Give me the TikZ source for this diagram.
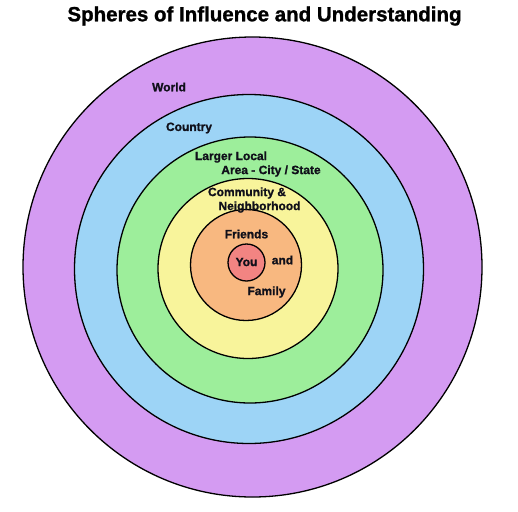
\documentclass[tikz,border=0pt]{standalone}
\usepackage{fontspec}
\setmainfont{Liberation Sans}[BoldFeatures={FakeBold=1.2}]
\definecolor{cpurple}{HTML}{D49BF2}
\definecolor{cblue}{HTML}{9DD4F6}
\definecolor{cgreen}{HTML}{9DEE9B}
\definecolor{cyellow}{HTML}{F8F49B}
\definecolor{corange}{HTML}{F8B880}
\definecolor{cred}{HTML}{F28482}
\definecolor{ctext}{HTML}{10101A}
\begin{document}
\begin{tikzpicture}[x=1pt,y=-1pt,
  ring/.style={draw=black,line width=1.3pt},
  lbl/.style={inner sep=0pt,font=\fontsize{12}{14}\selectfont\bfseries,text=ctext,anchor=center}]
\useasboundingbox (0,0) rectangle (518,511);
\fill[white] (0,0) rectangle (518,511);
\node[inner sep=0pt,font=\fontsize{20.5}{24}\selectfont\bfseries] (title) at (264.5,16) {Spheres of Influence and Understanding};
\draw[ring,fill=cpurple] (252.5,267) ellipse (229.5 and 230);
\draw[ring,fill=cblue] (249,269) circle (174.5);
\draw[ring,fill=cgreen] (250,270) circle (133);
\draw[ring,fill=cyellow] (248,268.5) circle (90);
\draw[ring,fill=corange] (246,265) circle (55.5);
\draw[ring,fill=cred] (246.5,262.5) circle (18.5);
\node[lbl] (world) at (169,87) {World};
\node[lbl] (country) at (189,128) {Country};
\node[lbl] (larger) at (231,157) {Larger Local};
\node[lbl] (area) at (271,171) {Area - City / State};
\node[lbl] (comm) at (247,193) {Community \&};
\node[lbl] (neigh) at (259.5,207) {Neighborhood};
\node[lbl] (friends) at (246.5,234) {Friends};
\node[lbl] (you) at (246.5,262) {You};
\node[lbl] (and) at (282.5,260) {and};
\node[lbl] (family) at (266.5,292) {Family};
\end{tikzpicture}
\end{document}
